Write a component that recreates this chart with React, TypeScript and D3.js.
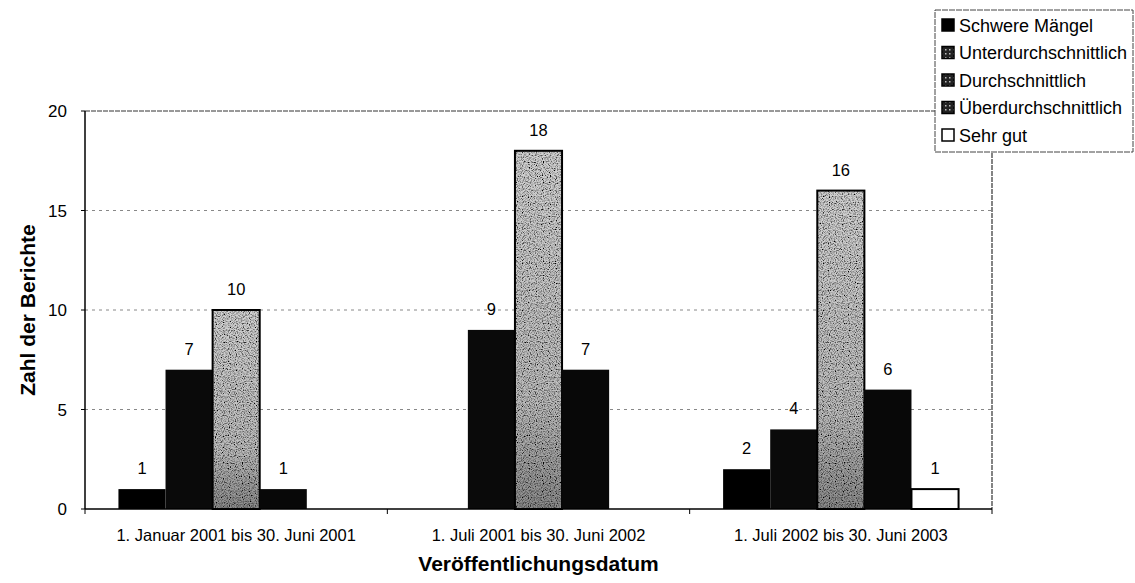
import React from "react";
import * as d3 from "d3";

const categories = [
  "1. Januar 2001 bis 30. Juni 2001",
  "1. Juli 2001 bis 30. Juni 2002",
  "1. Juli 2002 bis 30. Juni 2003",
];
const seriesNames = [
  "Schwere Mängel",
  "Unterdurchschnittlich",
  "Durchschnittlich",
  "Überdurchschnittlich",
  "Sehr gut",
];
const schwereMaengel = [1, 0, 2];
const unterdurchschnittlich = [7, 9, 4];
const durchschnittlich = [10, 18, 16];
const ueberdurchschnittlich = [1, 7, 6];
const sehrGut = [0, 0, 1];
const yTicks = [0, 5, 10, 15, 20];
const yTitle = "Zahl der Berichte";
const xTitle = "Veröffentlichungsdatum";

const seriesValues = [schwereMaengel, unterdurchschnittlich, durchschnittlich, ueberdurchschnittlich, sehrGut];
const seriesFill = ["#000", "#0a0a0a", "url(#grayFill)", "#080808", "#fff"];

const W = 1135;
const H = 583;
const left = 85;
const right = 992;
const top = 111;
const bottom = 509;
const FONT = "'Liberation Sans', Arial, Helvetica, sans-serif";

export default function App() {
  const x0 = d3.scaleBand<string>().domain(categories).range([left, right]).paddingInner(0).paddingOuter(0);
  const x1 = d3
    .scaleBand<string>()
    .domain(seriesNames)
    .range([0, x0.bandwidth()])
    .paddingInner(0)
    .paddingOuter(0.71);
  const y = d3.scaleLinear().domain([0, 20]).range([bottom, top]);

  const bars: any[] = [];
  categories.forEach((c, ci) => {
    seriesNames.forEach((s, si) => {
      const v = seriesValues[si][ci];
      if (!v) return;
      bars.push({ c, s, si, v, x: (x0(c) as number) + (x1(s) as number), w: x1.bandwidth() });
    });
  });

  const legendY = d3.scalePoint<string>().domain(seriesNames).range([25, 135]);

  return (
    <svg width={W} height={H} style={{ position: "absolute", left: 0, top: 0, background: "#fff" }}>
      <defs>
        <linearGradient id="grayFill" x1="0" y1="0" x2="0" y2="1">
          <stop offset="0" stopColor="#d2d2d2" />
          <stop offset="0.7" stopColor="#bdbdbd" />
          <stop offset="1" stopColor="#8a8a8a" />
        </linearGradient>
        <filter id="speckle" x="0" y="0" width="100%" height="100%">
          <feTurbulence type="fractalNoise" baseFrequency="0.85" numOctaves="1" seed="7" result="noise" />
          <feColorMatrix
            in="noise"
            type="matrix"
            values="0 0 0 0 0  0 0 0 0 0  0 0 0 0 0  3.2 0 0 0 -1.35"
            result="dots"
          />
          <feComposite in="dots" in2="SourceGraphic" operator="in" result="dotsIn" />
          <feMerge>
            <feMergeNode in="SourceGraphic" />
            <feMergeNode in="dotsIn" />
          </feMerge>
        </filter>
        <pattern id="legPat" width="4" height="4" patternUnits="userSpaceOnUse">
          <rect width="4" height="4" fill="#222" />
          <rect x="1" y="1" width="1.5" height="1.5" fill="#bbb" />
        </pattern>
      </defs>

      {/* gridlines */}
      {yTicks
        .filter((t) => t > 0 && t < 20)
        .map((t) => (
          <line
            key={"g" + t}
            x1={left}
            x2={right}
            y1={y(t)}
            y2={y(t)}
            stroke="#888"
            strokeWidth={1}
            strokeDasharray="3,4"
          />
        ))}
      {/* top and right frame */}
      <line x1={left} x2={right} y1={y(20)} y2={y(20)} stroke="#333" strokeWidth={1} strokeDasharray="5,1" />
      <line x1={right} x2={right} y1={y(20)} y2={bottom} stroke="#333" strokeWidth={1.2} strokeDasharray="5,1" />

      {/* bars */}
      {bars.map((b, i) => {
        const yt = y(b.v);
        const h = bottom - yt;
        if (b.si === 2) {
          return (
            <g key={i}>
              <rect x={b.x} y={yt} width={b.w} height={h} fill="url(#grayFill)" filter="url(#speckle)" />
              <rect x={b.x} y={yt} width={b.w} height={h} fill="none" stroke="#000" strokeWidth={2} />
            </g>
          );
        }
        if (b.si === 4) {
          return <rect key={i} x={b.x} y={yt} width={b.w} height={h} fill="#fff" stroke="#000" strokeWidth={2} />;
        }
        return <rect key={i} x={b.x} y={yt} width={b.w} height={h} fill={seriesFill[b.si]} />;
      })}

      {/* value labels */}
      {bars.map((b, i) => (
        <text
          key={"l" + i}
          x={b.x + b.w / 2}
          y={y(b.v) - 15}
          textAnchor="middle"
          fontFamily={FONT}
          fontSize={16.5}
          fill="#000"
        >
          {b.v}
        </text>
      ))}

      {/* axes */}
      <line x1={left} x2={left} y1={top} y2={bottom} stroke="#000" strokeWidth={1.5} />
      <line x1={left} x2={right} y1={bottom} y2={bottom} stroke="#000" strokeWidth={1.5} />
      {yTicks.map((t) => (
        <g key={"yt" + t}>
          <line x1={left - 4} x2={left} y1={y(t)} y2={y(t)} stroke="#000" strokeWidth={1} />
          <text x={67} y={y(t) + 6} textAnchor="end" fontFamily={FONT} fontSize={17} fill="#000">
            {t}
          </text>
        </g>
      ))}
      {[...categories.map((c) => x0(c) as number), right].map((xv, i) => (
        <line key={"xt" + i} x1={xv} x2={xv} y1={bottom} y2={bottom + 5} stroke="#000" strokeWidth={1} />
      ))}
      {categories.map((c) => (
        <text
          key={c}
          x={(x0(c) as number) + x0.bandwidth() / 2}
          y={541}
          textAnchor="middle"
          fontFamily={FONT}
          fontSize={16.5}
          fill="#000"
        >
          {c}
        </text>
      ))}
      <text x={(left + right) / 2} y={571} textAnchor="middle" fontFamily={FONT} fontSize={21} fontWeight="bold">
        {xTitle}
      </text>
      <text
        transform={`translate(35, ${(top + bottom) / 2}) rotate(-90)`}
        textAnchor="middle"
        fontFamily={FONT}
        fontSize={21}
        fontWeight="bold"
      >
        {yTitle}
      </text>

      {/* legend */}
      <rect x={935} y={10} width={198} height={142} fill="#fff" stroke="#444" strokeWidth={1} strokeDasharray="6,1" />
      {seriesNames.map((s, i) => {
        const cy = legendY(s) as number;
        const fill = i === 0 ? "#000" : i === 4 ? "#fff" : "url(#legPat)";
        return (
          <g key={"lg" + s}>
            <rect x={942} y={cy - 6} width={12} height={12} fill={fill} stroke="#000" strokeWidth={1.5} />
            <text x={959} y={cy + 6.5} fontFamily={FONT} fontSize={18} fill="#000">
              {s}
            </text>
          </g>
        );
      })}
    </svg>
  );
}
